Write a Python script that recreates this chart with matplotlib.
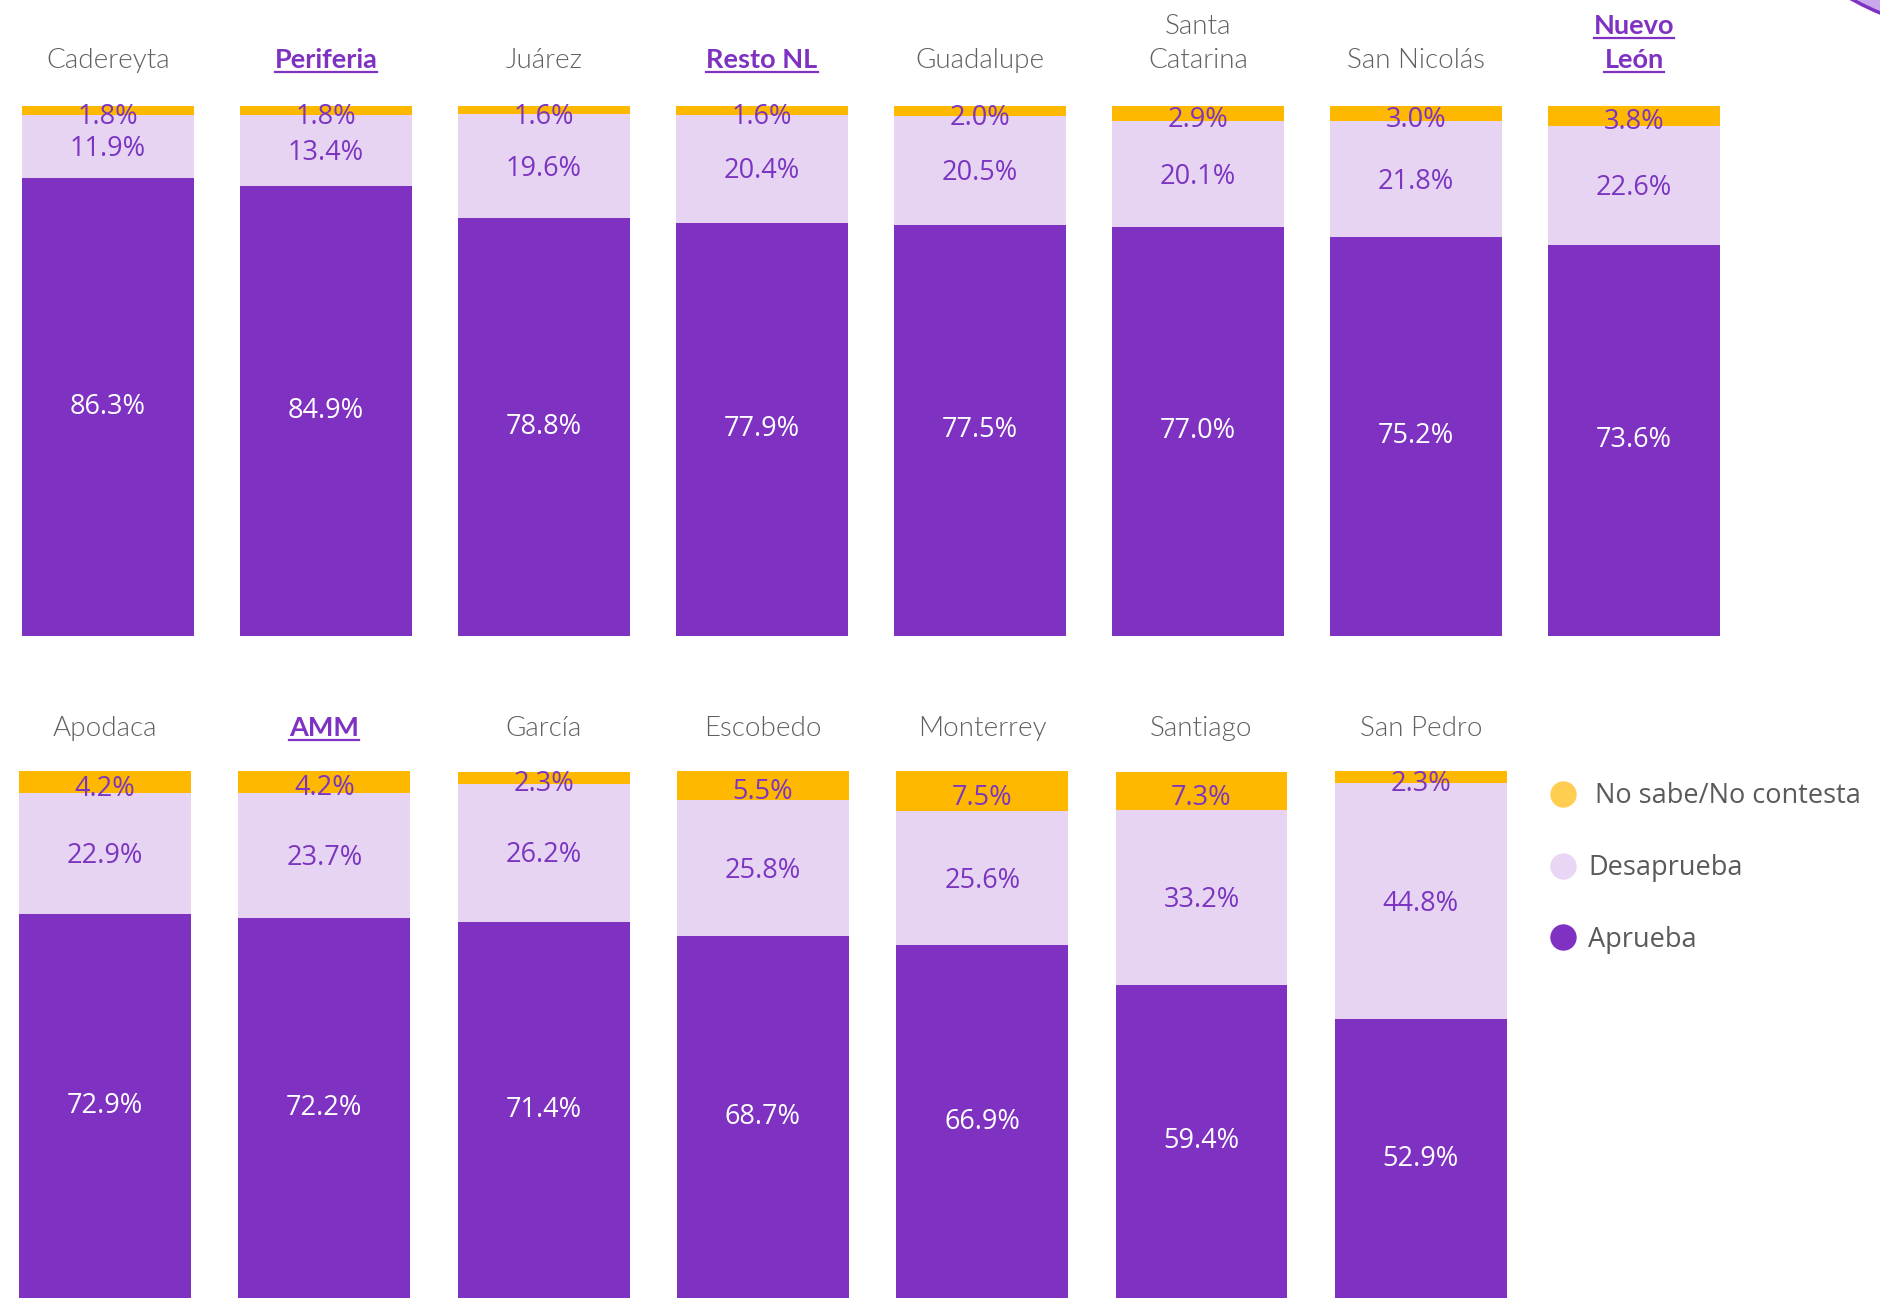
import matplotlib
matplotlib.use("Agg")
import matplotlib.pyplot as plt
import matplotlib.transforms as mtransforms
from matplotlib.lines import Line2D
from matplotlib.patches import Ellipse

# ── data ────────────────────────────────────────────────────────────────────
top_labels = ["Cadereyta", "Periferia", "Juárez", "Resto NL", "Guadalupe",
              "Santa\nCatarina", "San Nicolás", "Nuevo\nLeón"]
top_aprueba = [86.3, 84.9, 78.8, 77.9, 77.5, 77.0, 75.2, 73.6]
top_desaprueba = [11.9, 13.4, 19.6, 20.4, 20.5, 20.1, 21.8, 22.6]
top_nsnc = [1.8, 1.8, 1.6, 1.6, 2.0, 2.9, 3.0, 3.8]

bot_labels = ["Apodaca", "AMM", "García", "Escobedo", "Monterrey",
              "Santiago", "San Pedro"]
bot_aprueba = [72.9, 72.2, 71.4, 68.7, 66.9, 59.4, 52.9]
bot_desaprueba = [22.9, 23.7, 26.2, 25.8, 25.6, 33.2, 44.8]
bot_nsnc = [4.2, 4.2, 2.3, 5.5, 7.5, 7.3, 2.3]

highlight = {"Periferia", "Resto NL", "Nuevo\nLeón", "AMM"}

series_names = ["No sabe/No contesta", "Desaprueba", "Aprueba"]

# ── style ───────────────────────────────────────────────────────────────────
PURPLE = "#7f32c1"
LILAC = "#e7d4f3"
YELLOW = "#ffb800"
LABEL_PURPLE = "#7b35c0"
GREY = "#606060"
VAL_FONT = "Open Sans"
CAT_FONT = "Lato"

fig = plt.figure(figsize=(18.8, 12.98), dpi=100)
fig.patch.set_facecolor("white")

ax_top = fig.add_axes([0, 0.5104, 1, 0.4083])
ax_bot = fig.add_axes([0, 0.0, 1, 0.406])


def draw_row(ax, labels, apr, des, ns, width, xlim, base_y):
    x = list(range(len(labels)))
    ax.bar(x, apr, width=width, color=PURPLE, linewidth=0)
    ax.bar(x, des, width=width, bottom=apr, color=LILAC, linewidth=0)
    bottoms = [a + d for a, d in zip(apr, des)]
    ax.bar(x, ns, width=width, bottom=bottoms, color=YELLOW, linewidth=0)
    ax.set_xlim(*xlim)
    ax.set_ylim(0, 100)
    ax.axis("off")

    for i in x:
        ax.text(i, apr[i] / 2, f"{apr[i]:.1f}%", ha="center", va="center",
                color="white", fontsize=19.5, family=VAL_FONT)
        ax.text(i, apr[i] + des[i] / 2 - 0.5, f"{des[i]:.1f}%", ha="center",
                va="center", color=LABEL_PURPLE, fontsize=19.5, family=VAL_FONT)
        ax.text(i, bottoms[i] + ns[i] / 2 - 1.3, f"{ns[i]:.1f}%", ha="center",
                va="center", color=LABEL_PURPLE, fontsize=19.5, family=VAL_FONT)

    # category names, one text per line so highlighted ones can be underlined
    trans = mtransforms.blended_transform_factory(ax.transData, fig.transFigure)
    pitch = 34 / 1298
    out = []
    for i, lab in enumerate(labels):
        lines = lab.split("\n")
        hl = lab in highlight
        for j, line in enumerate(reversed(lines)):
            y = base_y + j * pitch
            t = ax.text(i, y, line, transform=trans, ha="center", va="baseline",
                        fontsize=19.5 if hl else 20, family=CAT_FONT,
                        fontweight="bold" if hl else 300,
                        color=PURPLE if hl else GREY)
            if hl:
                out.append((t, trans.transform((i, y))[1]))
    return out


under = draw_row(ax_top, top_labels, top_aprueba, top_desaprueba, top_nsnc,
                 0.789, (-0.4954, 8.128), 1 - 68 / 1298)
under += draw_row(ax_bot, bot_labels, bot_aprueba, bot_desaprueba, bot_nsnc,
                  0.784, (-0.479, 8.094), 1 - 736 / 1298)

# underline the aggregate names
fig.canvas.draw()
renderer = fig.canvas.get_renderer()
for t, base_px in under:
    bb = t.get_window_extent(renderer)
    y = base_px - 4
    fig.add_artist(Line2D([bb.x0, bb.x1], [y, y], transform=None,
                          color=PURPLE, linewidth=1.6))

# legend
handles = [
    Line2D([], [], linestyle="none", marker="o", markersize=19,
           markerfacecolor="#ffcd50", markeredgewidth=0),
    Line2D([], [], linestyle="none", marker="o", markersize=19,
           markerfacecolor="#e9d5f4", markeredgewidth=0),
    Line2D([], [], linestyle="none", marker="o", markersize=19,
           markerfacecolor=PURPLE, markeredgewidth=0),
]
leg = fig.legend(handles, [" " + series_names[0]] + series_names[1:],
                 loc="center left", bbox_to_anchor=(1549 / 1880, 1 - 868 / 1298),
                 frameon=False, borderpad=0, borderaxespad=0, handlelength=1.0,
                 handletextpad=0.45, labelspacing=1.62,
                 prop={"family": VAL_FONT, "size": 19.5})
for txt in leg.get_texts():
    txt.set_color("#5a5a5a")

# decorative circle in the corner
fig.add_artist(Ellipse((1990 / 1880, 1 + 250 / 1298), 2 * 285 / 1880,
                       2 * 285 / 1298, transform=fig.transFigure,
                       facecolor="#caa8ec", edgecolor=PURPLE, linewidth=2.5))

fig.savefig("out.png", dpi=100)
